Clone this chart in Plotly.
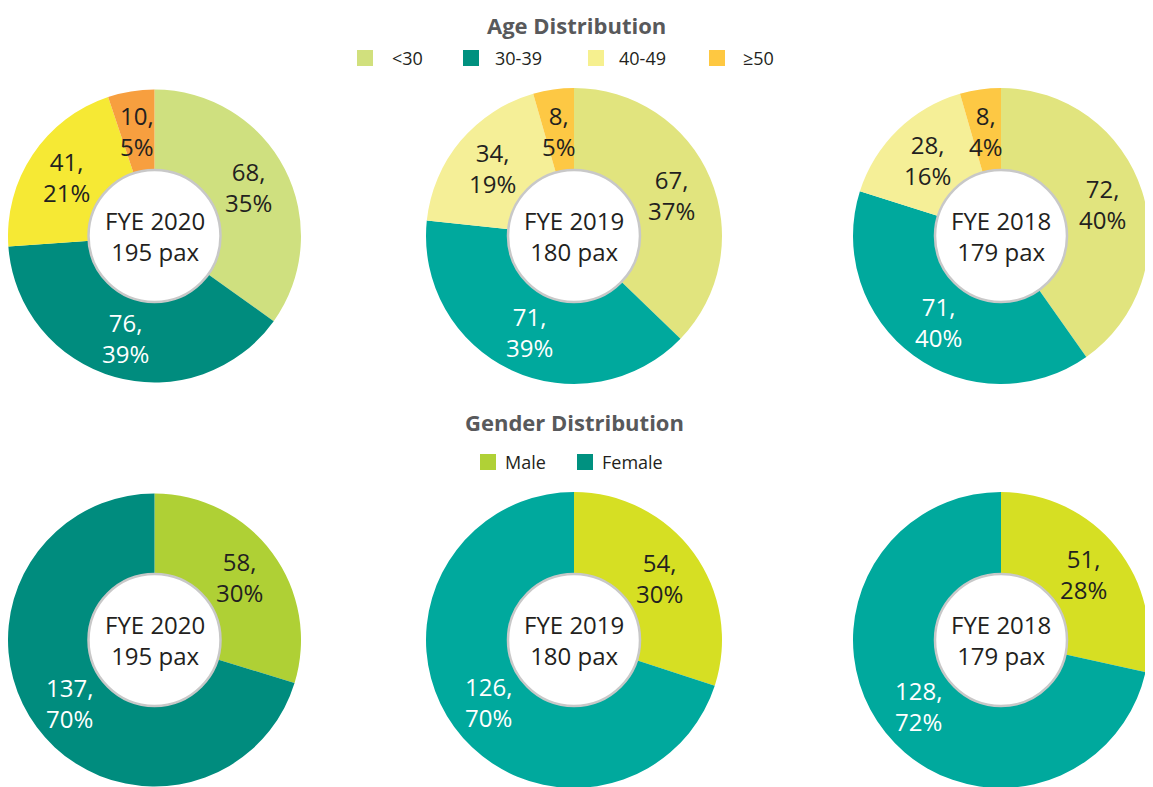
import math
import plotly.graph_objects as go

# ---- data ----
years = ["FYE 2020", "FYE 2019", "FYE 2018"]

age_labels = ["<30", "30-39", "40-49", "≥50"]
age_2020 = [68, 76, 41, 10]
age_2019 = [67, 71, 34, 8]
age_2018 = [72, 71, 28, 8]
age_pct_2020 = [35, 39, 21, 5]
age_pct_2019 = [37, 39, 19, 5]
age_pct_2018 = [40, 40, 16, 4]

gender_labels = ["Male", "Female"]
gender_2020 = [58, 137]
gender_2019 = [54, 126]
gender_2018 = [51, 128]
gender_pct_2020 = [30, 70]
gender_pct_2019 = [30, 70]
gender_pct_2018 = [28, 72]

# colours per year (the report shifts the palette a little per year)
age_colors_2020 = ["#cfe07f", "#008c7e", "#f6e934", "#f79f3f"]
age_colors_2019 = ["#e1e47e", "#00a99d", "#f5ef97", "#fdc844"]
age_colors_2018 = ["#e1e47e", "#00a99d", "#f5ef97", "#fdc844"]
gender_colors_2020 = ["#afd035", "#008c7e"]
gender_colors_2019 = ["#d6df23", "#00a99d"]
gender_colors_2018 = ["#d6df23", "#00a99d"]
age_legend_colors = ["#d1e07d", "#00917f", "#f6f08f", "#fec841"]
gender_legend_colors = ["#b0d136", "#009180"]

W, H = 1153, 787
OFF = 8  # page body margin shifts the figure by 8px
FONT = "Open Sans"
DARK = "#231f20"
col_x = [153, 574, 1001]
row_y = [236, 640]
R = 148
HOLE_R = 66
LABEL_R = 106

age_rows = [
    (age_2020, age_pct_2020, age_colors_2020),
    (age_2019, age_pct_2019, age_colors_2019),
    (age_2018, age_pct_2018, age_colors_2018),
]
gender_rows = [
    (gender_2020, gender_pct_2020, gender_colors_2020),
    (gender_2019, gender_pct_2019, gender_colors_2019),
    (gender_2018, gender_pct_2018, gender_colors_2018),
]

fig = go.Figure()
annotations = []
shapes = []


def px(x):
    return (x - OFF) / W


def py(y):
    return 1 - (y - OFF) / H


def clamp(v):
    return min(1.0, max(0.0, v))


def text_color(c):
    # white text on the teal slices, dark elsewhere
    return "white" if c in ("#008c7e", "#00a99d") else DARK


def note(x, y, text, size, color, xanchor="center", yanchor="middle", **kw):
    annotations.append(dict(
        x=px(x), y=py(y), xref="paper", yref="paper", text=text,
        showarrow=False, xanchor=xanchor, yanchor=yanchor,
        font=dict(family=FONT, size=size, color=color, **kw),
    ))


def add_donut(cx, cy, labels, values, pcts, colors, year):
    dx = [clamp(px(cx - R)), clamp(px(cx + R))]
    dy = [clamp(py(cy + R)), clamp(py(cy - R))]
    fig.add_trace(go.Pie(
        labels=labels, values=values, sort=False, direction="clockwise",
        rotation=0, hole=0.44, textinfo="none", hoverinfo="label+value+percent",
        marker=dict(colors=colors, line=dict(width=0)),
        domain=dict(x=dx, y=dy),
        showlegend=False,
    ))
    # where plotly actually puts the pie (screen px)
    cx = (dx[0] + dx[1]) / 2 * W + OFF
    cy = (1 - (dy[0] + dy[1]) / 2) * H + OFF
    total = sum(values)
    start = 0.0
    for v, p, c in zip(values, pcts, colors):
        mid = (start + v / 2) / total * 2 * math.pi
        start += v
        note(cx + LABEL_R * math.sin(mid), cy - LABEL_R * math.cos(mid),
             f"{v},<br>{p}%", 24, text_color(c))
    shapes.append(dict(
        type="circle", xref="paper", yref="paper",
        x0=px(cx - HOLE_R), x1=px(cx + HOLE_R),
        y0=py(cy + HOLE_R), y1=py(cy - HOLE_R),
        fillcolor="white", line=dict(color="#c8c8c8", width=2.5), layer="above",
    ))
    note(cx, cy, f"{year}<br>{total} pax", 24, DARK)


for i, (vals, pcts, cols) in enumerate(age_rows):
    add_donut(col_x[i], row_y[0], age_labels, vals, pcts, cols, years[i])
for i, (vals, pcts, cols) in enumerate(gender_rows):
    add_donut(col_x[i], row_y[1], gender_labels, vals, pcts, cols, years[i])


def add_legend(labels, colors, sq_x, txt_x, ypx):
    for lab, c, sx, tx in zip(labels, colors, sq_x, txt_x):
        shapes.append(dict(
            type="rect", xref="paper", yref="paper",
            x0=px(sx), x1=px(sx + 16), y0=py(ypx + 8), y1=py(ypx - 8),
            fillcolor=c, line=dict(width=0),
        ))
        note(tx, ypx, lab, 18, DARK, xanchor="left")


# top title anchored to the figure's top edge so it is not clipped
note(576, OFF, "Age Distribution", 22, "#58595b", yanchor="top", weight="bold")
add_legend(age_labels, age_legend_colors, [357, 463, 588, 709], [390, 493, 617, 741], 58)
note(574, 422, "Gender Distribution", 22, "#58595b", weight="bold")
add_legend(gender_labels, gender_legend_colors, [480, 577], [503, 600], 462)

fig.update_layout(
    width=W, height=H,
    margin=dict(l=0, r=0, t=0, b=0),
    paper_bgcolor="white", plot_bgcolor="white",
    font=dict(family=FONT),
    annotations=annotations, shapes=shapes,
    showlegend=False,
)

fig.write_html("out.html")
